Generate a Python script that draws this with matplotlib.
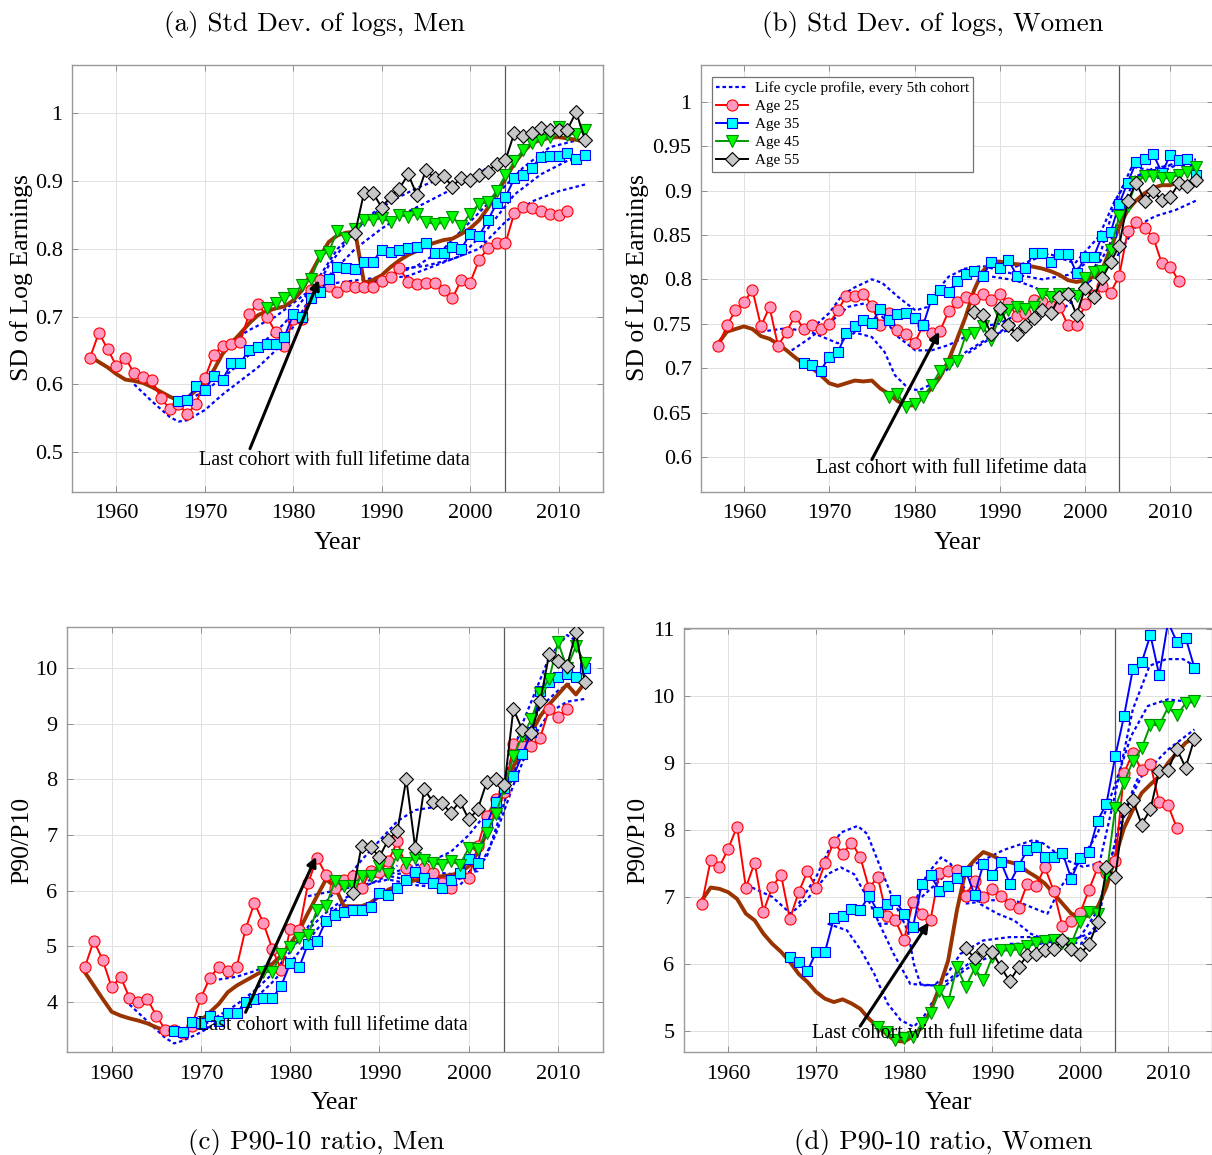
import matplotlib
matplotlib.use("Agg")
import matplotlib.pyplot as plt

W, H = 1212, 1155

# ---- years for each series ----
years25 = list(range(1957, 2012))
years35 = list(range(1967, 2014))
years45 = list(range(1977, 2014))
years55 = list(range(1987, 2014))
years_all = list(range(1957, 2014))

### (a) Std dev of logs, men ###
a_age25 = [0.639, 0.676, 0.652, 0.627, 0.639, 0.616, 0.611, 0.607, 0.580, 0.564,
           0.571, 0.556, 0.571, 0.609, 0.644, 0.657, 0.659, 0.663, 0.704, 0.719,
           0.700, 0.677, 0.657, 0.697, 0.696, 0.739, 0.754, 0.745, 0.737, 0.745,
           0.744, 0.744, 0.744, 0.753, 0.758, 0.772, 0.751, 0.748, 0.750, 0.750,
           0.739, 0.727, 0.754, 0.750, 0.783, 0.801, 0.808, 0.808, 0.853, 0.862,
           0.861, 0.856, 0.851, 0.850, 0.856]
a_age35 = [0.576, 0.577, 0.598, 0.591, 0.613, 0.607, 0.631, 0.632, 0.650, 0.655,
           0.660, 0.659, 0.670, 0.704, 0.699, 0.727, 0.736, 0.755, 0.773, 0.771,
           0.770, 0.781, 0.781, 0.799, 0.796, 0.798, 0.801, 0.803, 0.809, 0.794,
           0.794, 0.803, 0.800, 0.822, 0.819, 0.842, 0.867, 0.876, 0.904, 0.909,
           0.920, 0.936, 0.937, 0.937, 0.941, 0.933, 0.938]
a_age45 = [0.712, 0.720, 0.728, 0.734, 0.746, 0.756, 0.789, 0.796, 0.826, 0.816,
           0.830, 0.843, 0.843, 0.845, 0.840, 0.850, 0.847, 0.852, 0.839, 0.837,
           0.838, 0.847, 0.834, 0.852, 0.866, 0.869, 0.885, 0.909, 0.929, 0.946,
           0.957, 0.961, 0.965, 0.980, 0.968, 0.970, 0.975]
a_age55 = [0.824, 0.883, 0.883, 0.861, 0.877, 0.889, 0.910, 0.879, 0.916, 0.904,
           0.907, 0.892, 0.905, 0.902, 0.909, 0.914, 0.926, 0.931, 0.971, 0.967,
           0.971, 0.978, 0.976, 0.976, 0.976, 1.002, 0.961]
a_all = [0.641, 0.633, 0.625, 0.615, 0.607, 0.605, 0.602, 0.596, 0.589, 0.582,
         0.576, 0.580, 0.591, 0.601, 0.621, 0.645, 0.661, 0.675, 0.690, 0.702,
         0.708, 0.712, 0.715, 0.724, 0.739, 0.764, 0.788, 0.810, 0.820, 0.824,
         0.825, 0.750, 0.754, 0.761, 0.773, 0.783, 0.791, 0.797, 0.805, 0.809,
         0.813, 0.815, 0.822, 0.830, 0.842, 0.860, 0.882, 0.904, 0.926, 0.943,
         0.956, 0.961, 0.964, 0.965, 0.963, 0.961, 0.958]
# life cycle profiles (every 5th cohort)
a_lc_years = [[1962, 1964, 1966, 1967, 1968, 1970, 1972, 1974, 1976, 1978, 1980, 1982, 1984, 1986, 1988, 1990, 1992],
              [1967, 1970, 1973, 1976, 1979, 1982, 1985, 1988, 1991, 1994, 1997],
              [1972, 1975, 1978, 1981, 1984, 1987, 1990, 1993, 1996, 1999, 2002],
              [1982, 1985, 1988, 1991, 1994, 1997, 2000, 2003, 2006, 2009, 2012],
              [1987, 1990, 1993, 1996, 1999, 2002, 2005, 2008, 2011, 2013],
              [1992, 1995, 1998, 2001, 2004, 2007, 2010, 2013]]
a_lc_vals = [[0.600, 0.575, 0.552, 0.545, 0.547, 0.562, 0.585, 0.605, 0.625, 0.650, 0.685, 0.730, 0.775, 0.810, 0.840, 0.865, 0.880],
             [0.570, 0.590, 0.620, 0.655, 0.690, 0.740, 0.800, 0.840, 0.870, 0.890, 0.905],
             [0.655, 0.680, 0.700, 0.730, 0.760, 0.800, 0.830, 0.855, 0.875, 0.895, 0.920],
             [0.740, 0.750, 0.755, 0.760, 0.775, 0.800, 0.840, 0.880, 0.920, 0.950, 0.960],
             [0.745, 0.755, 0.760, 0.775, 0.790, 0.830, 0.880, 0.910, 0.930, 0.935],
             [0.770, 0.775, 0.785, 0.800, 0.840, 0.870, 0.885, 0.895]]

### (b) Std dev of logs, women ###
b_age25 = [0.725, 0.748, 0.765, 0.774, 0.788, 0.747, 0.769, 0.725, 0.741, 0.759,
           0.744, 0.748, 0.744, 0.750, 0.765, 0.781, 0.781, 0.784, 0.770, 0.748,
           0.762, 0.743, 0.738, 0.728, 0.748, 0.740, 0.742, 0.764, 0.774, 0.780,
           0.778, 0.783, 0.777, 0.783, 0.773, 0.759, 0.762, 0.777, 0.775, 0.770,
           0.769, 0.748, 0.748, 0.772, 0.782, 0.792, 0.785, 0.804, 0.854, 0.864,
           0.858, 0.847, 0.818, 0.814, 0.798]
b_age35 = [0.706, 0.703, 0.697, 0.713, 0.718, 0.739, 0.747, 0.754, 0.751, 0.767,
           0.754, 0.761, 0.762, 0.757, 0.748, 0.778, 0.788, 0.786, 0.798, 0.806,
           0.809, 0.804, 0.819, 0.813, 0.822, 0.804, 0.813, 0.830, 0.830, 0.820,
           0.829, 0.829, 0.807, 0.825, 0.825, 0.849, 0.853, 0.885, 0.909, 0.932,
           0.936, 0.941, 0.920, 0.940, 0.934, 0.936, 0.918]
b_age45 = [0.668, 0.671, 0.656, 0.660, 0.667, 0.681, 0.697, 0.705, 0.708, 0.737,
           0.740, 0.747, 0.732, 0.759, 0.765, 0.769, 0.767, 0.769, 0.784, 0.780,
           0.784, 0.784, 0.781, 0.802, 0.808, 0.809, 0.833, 0.871, 0.882, 0.910,
           0.916, 0.916, 0.914, 0.914, 0.918, 0.921, 0.927]
b_age55 = [0.763, 0.760, 0.738, 0.768, 0.748, 0.738, 0.747, 0.757, 0.766, 0.762,
           0.780, 0.784, 0.760, 0.790, 0.780, 0.801, 0.819, 0.838, 0.888, 0.909,
           0.888, 0.899, 0.889, 0.893, 0.908, 0.905, 0.912]
b_all = [0.728, 0.741, 0.744, 0.747, 0.744, 0.736, 0.733, 0.727, 0.720, 0.712,
         0.705, 0.700, 0.692, 0.683, 0.680, 0.683, 0.686, 0.685, 0.686, 0.677,
         0.671, 0.663, 0.658, 0.658, 0.668, 0.677, 0.690, 0.709, 0.733, 0.758,
         0.788, 0.809, 0.820, 0.820, 0.818, 0.817, 0.816, 0.814, 0.812, 0.809,
         0.805, 0.799, 0.797, 0.799, 0.803, 0.811, 0.835, 0.859, 0.878, 0.889,
         0.897, 0.903, 0.906, 0.906, 0.910, 0.908, 0.911]
b_lc_years = [[1962, 1965, 1968, 1971, 1973, 1975, 1976.5, 1977.7, 1979.3, 1980.5, 1982, 1984, 1986, 1988, 1990, 1992],
              [1965.6, 1967.6, 1969.9, 1972.2, 1974.2, 1976.2, 1978.1, 1980.1, 1982, 1984, 1985.9, 1987.9, 1989.9, 1992, 1995, 1997],
              [1968, 1970, 1971.5, 1973, 1975, 1976.2, 1978.1, 1980.1, 1981.6, 1982.4, 1984, 1985.9, 1988, 1990, 1992, 1995, 1998, 2002],
              [1986.3, 1989.9, 1991.8, 1994.9, 1997.7, 1999.6, 2002.8, 2004.3, 2005.9, 2008.2, 2010.6, 2013],
              [1989.1, 1991.8, 1993.8, 1995.7, 1997.7, 1999.6, 2001.6, 2003.5, 2005.5, 2007.5, 2009.4, 2012.9],
              [1991.8, 1995.7, 1998.8, 2001.6, 2003.5, 2005.1, 2008, 2011, 2013],
              [1996, 1999.6, 2003.5, 2005.9, 2008.2, 2010.6, 2013.1]]
b_lc_vals = [[0.741, 0.745, 0.740, 0.728, 0.740, 0.735, 0.718, 0.692, 0.677, 0.675, 0.682, 0.700, 0.718, 0.730, 0.740, 0.745],
             [0.720, 0.733, 0.750, 0.769, 0.773, 0.758, 0.735, 0.720, 0.720, 0.726, 0.735, 0.747, 0.750, 0.760, 0.770, 0.775],
             [0.745, 0.762, 0.782, 0.791, 0.800, 0.796, 0.780, 0.765, 0.769, 0.784, 0.803, 0.812, 0.815, 0.810, 0.805, 0.800, 0.805, 0.830],
             [0.717, 0.740, 0.752, 0.769, 0.769, 0.784, 0.837, 0.878, 0.916, 0.923, 0.931, 0.935],
             [0.803, 0.799, 0.792, 0.784, 0.777, 0.788, 0.822, 0.886, 0.927, 0.923, 0.923, 0.938],
             [0.814, 0.829, 0.818, 0.848, 0.889, 0.912, 0.925, 0.930, 0.932],
             [0.770, 0.790, 0.822, 0.859, 0.871, 0.878, 0.889]]

### (c) P90/P10, men ###
c_age25 = [4.62, 5.10, 4.75, 4.26, 4.45, 4.07, 3.99, 4.05, 3.75, 3.50,
           3.50, 3.44, 3.57, 4.07, 4.43, 4.63, 4.56, 4.62, 5.31, 5.78,
           5.41, 4.95, 4.57, 5.31, 5.29, 6.13, 6.59, 6.29, 6.05, 6.20,
           6.26, 6.05, 6.35, 6.34, 6.53, 6.89, 6.40, 6.31, 6.41, 6.32,
           6.14, 6.05, 6.32, 6.23, 6.80, 7.34, 7.64, 7.77, 8.63, 8.61,
           8.61, 8.75, 9.27, 9.13, 9.26]
c_age35 = [3.48, 3.45, 3.63, 3.62, 3.74, 3.66, 3.80, 3.80, 3.99, 4.05,
           4.06, 4.06, 4.29, 4.69, 4.62, 5.04, 5.10, 5.46, 5.57, 5.62,
           5.65, 5.65, 5.71, 5.96, 5.92, 6.04, 6.20, 6.34, 6.22, 6.13,
           6.05, 6.19, 6.31, 6.57, 6.49, 7.19, 7.59, 7.85, 8.06, 8.45,
           8.85, 9.60, 9.75, 9.85, 9.90, 9.85, 10.00]
c_age45 = [4.53, 4.54, 4.86, 4.98, 5.14, 5.20, 5.66, 5.72, 6.17, 6.08,
           6.08, 6.26, 6.26, 6.45, 6.30, 6.65, 6.50, 6.59, 6.56, 6.50,
           6.46, 6.53, 6.46, 6.77, 6.75, 7.04, 7.37, 7.85, 8.42, 8.78,
           9.08, 9.56, 9.81, 10.47, 10.01, 10.40, 10.10]
c_age55 = [5.96, 6.81, 6.78, 6.61, 6.92, 7.07, 8.01, 6.77, 7.83, 7.59,
           7.57, 7.40, 7.61, 7.28, 7.46, 7.95, 8.00, 7.90, 9.27, 8.89,
           8.84, 9.41, 10.25, 10.13, 10.04, 10.65, 9.75]
c_all = [4.53, 4.29, 4.05, 3.82, 3.75, 3.70, 3.66, 3.61, 3.54, 3.48,
         3.47, 3.48, 3.54, 3.66, 3.81, 3.96, 4.17, 4.29, 4.38, 4.47,
         4.56, 4.68, 4.83, 5.04, 5.28, 5.60, 5.90, 6.20, 6.08, 5.72,
         5.72, 5.72, 5.78, 5.90, 6.02, 6.08, 6.14, 6.19, 6.20, 6.23,
         6.26, 6.28, 6.32, 6.44, 6.68, 7.04, 7.46, 7.79, 8.24, 8.51,
         8.84, 9.14, 9.35, 9.53, 9.71, 9.53, 9.74]
c_lc_years = [[1962, 1964, 1966, 1967, 1968, 1970, 1972, 1974, 1976, 1978, 1980, 1982, 1984, 1986, 1988, 1990, 1992],
              [1967, 1970, 1972, 1974, 1976, 1978, 1980, 1982, 1984, 1986, 1988, 1990, 1992, 1994, 1996, 1997],
              [1972, 1974, 1976, 1978, 1980, 1982, 1984, 1986, 1988, 1990, 1992, 1994, 1996, 1998, 2000, 2002],
              [1982, 1985, 1988, 1991, 1994, 1997, 2000, 2003, 2006, 2009, 2011, 2012],
              [1987, 1990, 1993, 1996, 1999, 2002, 2004, 2006, 2008, 2010, 2013],
              [1992, 1995, 1998, 2001, 2003, 2005, 2007, 2009, 2011, 2013]]
c_lc_vals = [[3.95, 3.65, 3.35, 3.25, 3.30, 3.45, 3.65, 3.85, 4.05, 4.35, 4.70, 5.10, 5.50, 5.80, 6.10, 6.30, 6.45],
             [3.45, 3.55, 3.75, 3.95, 4.20, 4.50, 4.90, 5.35, 5.80, 6.15, 6.55, 6.90, 7.25, 7.45, 7.50, 7.55],
             [4.40, 4.45, 4.55, 4.70, 4.95, 5.30, 5.60, 5.85, 6.05, 6.20, 6.35, 6.45, 6.55, 6.70, 7.00, 7.40],
             [5.90, 6.00, 6.10, 6.20, 6.10, 6.05, 6.30, 7.50, 9.00, 10.20, 10.60, 10.50],
             [6.20, 6.30, 6.20, 6.10, 6.10, 6.60, 7.60, 8.60, 9.30, 9.60, 9.90],
             [6.30, 6.35, 6.30, 6.35, 7.00, 7.90, 8.70, 9.20, 9.40, 9.45]]

### (d) P90/P10, women ###
d_age25 = [6.90, 7.55, 7.45, 7.72, 8.05, 7.14, 7.51, 6.78, 7.15, 7.33,
           6.67, 7.07, 7.38, 7.14, 7.50, 7.82, 7.64, 7.81, 7.60, 7.13,
           7.30, 6.72, 6.65, 6.36, 6.93, 6.75, 6.66, 7.36, 7.38, 7.40,
           7.02, 7.24, 7.00, 7.12, 7.02, 6.89, 6.84, 7.20, 7.17, 7.44,
           7.09, 6.56, 6.64, 6.76, 7.10, 7.44, 7.35, 7.54, 8.85, 9.15,
           8.89, 8.98, 8.41, 8.37, 8.03]
d_age35 = [6.10, 6.03, 5.89, 6.18, 6.18, 6.68, 6.72, 6.82, 6.80, 7.02,
           6.78, 6.90, 6.95, 6.74, 6.55, 7.19, 7.33, 7.09, 7.17, 7.28,
           7.39, 7.03, 7.49, 7.32, 7.52, 7.20, 7.46, 7.70, 7.75, 7.60,
           7.60, 7.66, 7.27, 7.58, 7.67, 8.14, 8.39, 9.10, 9.70, 10.40,
           10.50, 10.91, 10.31, 11.10, 10.81, 10.87, 10.42]
d_age45 = [5.06, 4.98, 4.86, 4.89, 4.91, 5.11, 5.26, 5.59, 5.43, 5.95,
           5.66, 5.93, 5.76, 6.10, 6.20, 6.20, 6.22, 6.26, 6.31, 6.34,
           6.35, 6.31, 6.30, 6.63, 6.77, 6.75, 7.32, 8.33, 8.70, 9.03,
           9.22, 9.57, 9.56, 9.83, 9.71, 9.89, 9.92]
d_age55 = [6.23, 6.09, 6.20, 6.18, 5.95, 5.74, 5.95, 6.13, 6.15, 6.20,
           6.22, 6.35, 6.22, 6.15, 6.29, 6.62, 7.44, 7.29, 8.31, 8.45,
           8.08, 8.31, 8.88, 8.89, 9.21, 8.93, 9.36]
d_all = [6.95, 7.14, 7.12, 7.07, 6.97, 6.75, 6.65, 6.45, 6.30, 6.18,
         6.03, 5.85, 5.73, 5.58, 5.48, 5.43, 5.47, 5.41, 5.33, 5.18,
         5.06, 4.95, 4.85, 4.84, 4.92, 5.05, 5.30, 5.65, 6.05, 6.80,
         7.40, 7.55, 7.67, 7.62, 7.55, 7.52, 7.48, 7.38, 7.30, 7.20,
         7.05, 6.90, 6.75, 6.70, 6.72, 6.85, 7.15, 7.60, 8.03, 8.30,
         8.55, 8.68, 8.80, 9.00, 9.15, 9.30, 9.38]
d_lc_years = [[1962.7, 1965, 1967.1, 1969, 1971.3, 1972.8, 1974.3, 1975.8, 1977, 1978.8, 1980.7, 1983.4, 1984.9, 1986.8, 1988.7, 1990.6, 1992],
              [1968, 1970, 1971.4, 1972.8, 1974.7, 1975.8, 1977.3, 1978.8, 1980.4, 1981.1, 1981.9, 1983.4, 1984.9, 1986.4, 1989, 1992, 1997],
              [1971.3, 1973.5, 1975.1, 1976.6, 1978.1, 1979.6, 1981.1, 1982.3, 1983.8, 1984.9, 1986.8, 1988.7, 1990.6, 1992.5, 1995, 1998, 2002],
              [1977, 1979, 1981.1, 1982.6, 1984.2, 1985.3, 1986.8, 1988.7, 1990.6, 1992.5, 1994.4, 1996.3, 1998.2, 2000, 2002, 2004, 2006, 2007],
              [1982, 1984.5, 1986.8, 1989, 1991.3, 1994.7, 1995.8, 1998.4, 2000.3, 2002.2, 2004.1, 2006, 2007.9, 2009.8, 2011.7, 2013],
              [1987, 1990, 1992.5, 1996.3, 1997.8, 2000.1, 2002, 2003.9, 2005.8, 2007.7, 2010, 2013],
              [1992, 1995, 1998.2, 2000.1, 2002, 2003.2, 2004.7, 2007, 2010, 2013]]
d_lc_vals = [[7.14, 7.00, 6.75, 6.97, 7.34, 7.44, 7.34, 6.99, 6.65, 6.15, 5.70, 5.68, 5.75, 5.95, 6.15, 6.20, 6.25],
             [6.90, 7.30, 7.69, 7.96, 8.06, 7.94, 7.44, 6.94, 6.50, 6.00, 5.68, 5.68, 5.85, 6.15, 6.35, 6.40, 6.40],
             [6.60, 6.50, 6.20, 5.85, 5.41, 5.16, 5.06, 5.23, 5.56, 5.70, 5.90, 6.05, 6.15, 6.25, 6.30, 6.30, 6.50],
             [6.60, 6.60, 6.89, 7.34, 7.59, 7.49, 7.14, 6.89, 6.75, 6.65, 6.45, 6.35, 6.32, 6.40, 6.80, 7.80, 8.60, 8.90],
             [7.00, 7.30, 7.42, 7.55, 7.70, 7.85, 7.80, 7.55, 7.45, 7.50, 8.60, 9.80, 10.45, 10.55, 10.55, 10.45],
             [6.90, 6.95, 6.95, 6.75, 7.15, 7.55, 7.95, 8.65, 9.40, 9.85, 9.95, 9.90],
             [6.30, 6.30, 6.35, 6.30, 6.60, 7.40, 8.20, 8.80, 9.20, 9.50]]

ticks_a = [0.5, 0.6, 0.7, 0.8, 0.9, 1.0]
ticklabels_a = ["0.5", "0.6", "0.7", "0.8", "0.9", "1"]
ticks_b = [0.6, 0.65, 0.7, 0.75, 0.8, 0.85, 0.9, 0.95, 1.0]
ticklabels_b = ["0.6", "0.65", "0.7", "0.75", "0.8", "0.85", "0.9", "0.95", "1"]
ticks_c = [4, 5, 6, 7, 8, 9, 10]
ticks_d = [5, 6, 7, 8, 9, 10, 11]
year_ticks = [1960, 1970, 1980, 1990, 2000, 2010]

SERIF = ["Liberation Serif", "DejaVu Serif"]
CAPTION = ["cmr10", "Liberation Serif", "DejaVu Serif"]
plt.rcParams["font.family"] = SERIF
plt.rcParams["axes.unicode_minus"] = False

BROWN = (0.6, 0.2, 0.0)
PINK = (1.0, 0.6, 0.75)
DOT = (0, (1.6, 1.3))


def px_rect(left, top, right, bottom):
    return [left / W, 1 - bottom / H, (right - left) / W, (bottom - top) / H]


'''
drawPanel(ax, ...)
draws one of the four panels
'''
def drawPanel(ax, lc_years, lc_vals, allv, s25, s35, s45, s55, ylim, yticks, yticklabels,
              arrow_tail, arrow_head, note_xy, legend=False):
    for i in range(len(lc_years)):
        lbl = "Life cycle profile, every 5th cohort" if i == 0 else None
        ax.plot(lc_years[i], lc_vals[i], color="blue", lw=1.6, ls=DOT, label=lbl, zorder=2)
    ax.plot(years_all, allv, color=BROWN, lw=2.8, zorder=3)
    ax.plot(years25, s25, color="red", lw=1.4, marker="o", ms=8, mfc=PINK, mec="red",
            mew=0.8, label="Age 25", zorder=4)
    ax.plot(years35, s35, color="blue", lw=1.4, marker="s", ms=7, mfc="cyan", mec="blue",
            mew=0.8, label="Age 35", zorder=5)
    ax.plot(years45, s45, color=(0, 0.6, 0), lw=1.4, marker="v", ms=8.5, mfc=(0, 1, 0), mec=(0, 0.55, 0),
            mew=0.8, label="Age 45", zorder=6)
    ax.plot(years55, s55, color="black", lw=1.4, marker="D", ms=7, mfc=(0.78, 0.78, 0.78), mec="black",
            mew=0.8, label="Age 55", zorder=7)

    ax.axvline(2004, color=(0.35, 0.35, 0.35), lw=0.9, zorder=1)
    ax.annotate("", xy=arrow_head, xytext=arrow_tail,
                arrowprops=dict(arrowstyle="-|>", color="k", lw=2.2, mutation_scale=14,
                                shrinkA=0, shrinkB=0), zorder=9)
    ax.text(note_xy[0], note_xy[1], "Last cohort with full lifetime data", fontsize=14.5,
            ha="center", va="center", zorder=10)

    ax.set_xlim(1955, 2015)
    ax.set_ylim(ylim)
    ax.set_xticks(year_ticks)
    ax.set_xticklabels([str(y) for y in year_ticks])
    ax.set_yticks(yticks)
    ax.set_yticklabels(yticklabels)
    ax.grid(True, color=(0.88, 0.88, 0.88), lw=0.7)
    ax.set_axisbelow(True)
    ax.tick_params(direction="in", length=4, width=0.7, colors=(0.55, 0.55, 0.55),
                   labelcolor="black", labelsize=16, top=True, right=True)
    ax.tick_params(axis="x", pad=9)
    ax.tick_params(axis="y", pad=7)
    for s in ax.spines.values():
        s.set_color((0.6, 0.6, 0.6))
        s.set_linewidth(1.0)
    ax.set_xlabel("Year", fontsize=18.5, labelpad=6)

    if legend:
        bw = ax.get_position().width * W
        bh = ax.get_position().height * H
        leg = ax.legend(loc="upper left", bbox_to_anchor=(10.5 / bw, 1 - 11.5 / bh),
                        borderaxespad=0, fontsize=11, handlelength=2.1, handletextpad=0.4,
                        labelspacing=0.28, borderpad=0.3, fancybox=False, framealpha=1,
                        edgecolor=(0.45, 0.45, 0.45))
        leg.get_frame().set_linewidth(0.9)
        leg.set_zorder(20)


fig = plt.figure(figsize=(W / 100, H / 100), dpi=100)

ax_a = fig.add_axes(px_rect(72.3, 65.3, 602.7, 492))
ax_b = fig.add_axes(px_rect(701.3, 65.3, 1213, 492))
ax_c = fig.add_axes(px_rect(67, 626.7, 602.7, 1052.3))
ax_d = fig.add_axes(px_rect(684.3, 628.3, 1212, 1052.3))

drawPanel(ax_a, a_lc_years, a_lc_vals, a_all, a_age25, a_age35, a_age45, a_age55,
          (0.441, 1.071), ticks_a, ticklabels_a, (1975.1, 0.505), (1982.9, 0.754), (1984.7, 0.488))
drawPanel(ax_b, b_lc_years, b_lc_vals, b_all, b_age25, b_age35, b_age45, b_age55,
          (0.5605, 1.041), ticks_b, ticklabels_b, (1975.0, 0.597), (1982.9, 0.741), (1984.3, 0.587),
          legend=True)
drawPanel(ax_c, c_lc_years, c_lc_vals, c_all, c_age25, c_age35, c_age45, c_age55,
          (3.09, 10.75), ticks_c, [str(t) for t in ticks_c], (1975.0, 3.81), (1982.9, 6.61), (1984.7, 3.58))
drawPanel(ax_d, d_lc_years, d_lc_vals, d_all, d_age25, d_age35, d_age45, d_age55,
          (4.68, 11.01), ticks_d, [str(t) for t in ticks_d], (1975.0, 5.07), (1982.8, 6.62), (1984.9, 4.96))

# y labels
fig.text(22 / W, 1 - 278 / H, "SD of Log Earnings", rotation=90, ha="center", va="center", fontsize=18.5)
fig.text(638 / W, 1 - 278 / H, "SD of Log Earnings", rotation=90, ha="center", va="center", fontsize=18.5)
fig.text(22 / W, 1 - 840 / H, "P90/P10", rotation=90, ha="center", va="center", fontsize=18.5)
fig.text(638 / W, 1 - 840 / H, "P90/P10", rotation=90, ha="center", va="center", fontsize=18.5)

# sub-captions
fig.text(315 / W, 1 - 24 / H, "(a) Std Dev. of logs, Men", ha="center", va="center", fontsize=19.5, family=CAPTION)
fig.text(933 / W, 1 - 24 / H, "(b) Std Dev. of logs, Women", ha="center", va="center", fontsize=19.5, family=CAPTION)
fig.text(316 / W, 1 - 1142 / H, "(c) P90-10 ratio, Men", ha="center", va="center", fontsize=19.5, family=CAPTION)
fig.text(943 / W, 1 - 1142 / H, "(d) P90-10 ratio, Women", ha="center", va="center", fontsize=19.5, family=CAPTION)

fig.savefig("out.png", dpi=100)
